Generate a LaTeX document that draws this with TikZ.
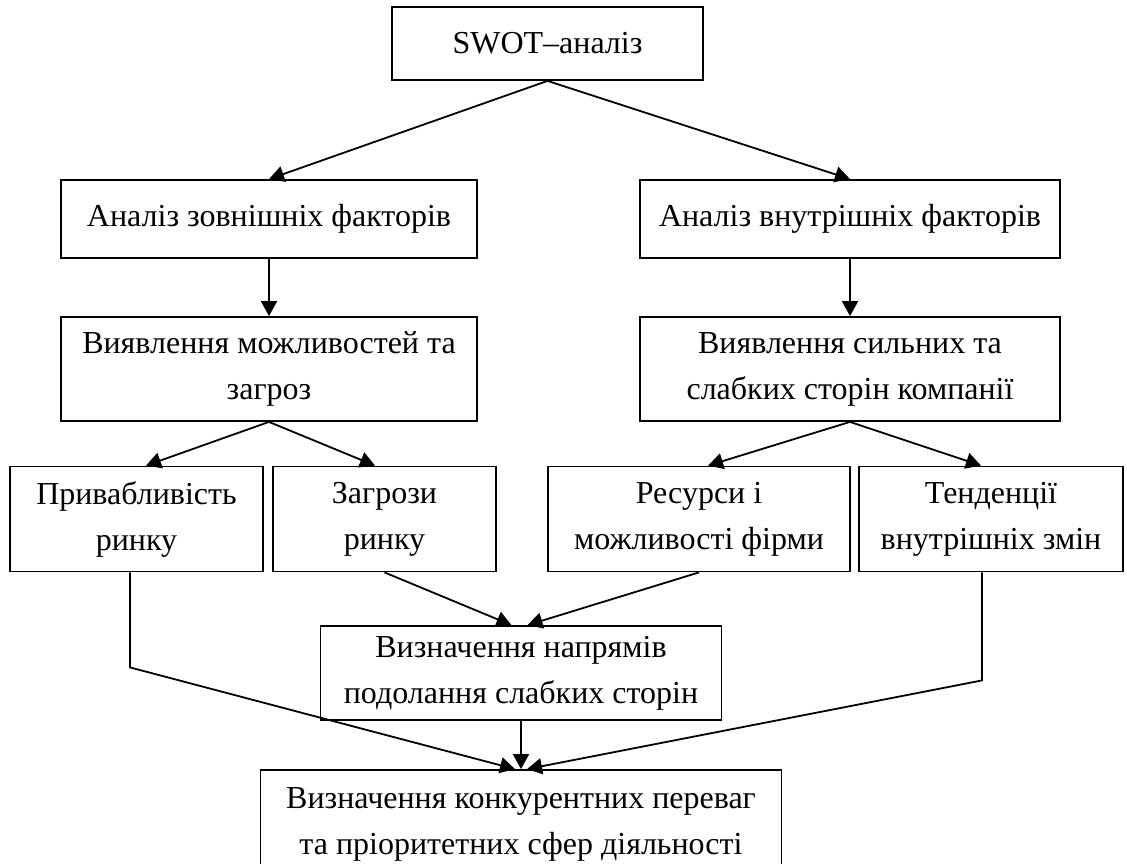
\documentclass[tikz,border=0pt]{standalone}
\usepackage{fontspec}
\setmainfont{Liberation Serif}
\usetikzlibrary{arrows.meta}
\tikzset{
  blok/.style={draw, line width=0.9pt, align=center, inner sep=0pt,
    font=\fontsize{16}{23}\selectfont},
  strilka/.style={-{Triangle[length=7.5pt,width=8pt]}, line width=0.9pt},
  liniia/.style={line width=0.9pt}
}
\begin{document}
\begin{tikzpicture}[x=0.5pt,y=-0.5pt]
	\useasboundingbox (0,0) rectangle (1127,863);

	% top level
	\node[blok, minimum width=155.5pt, minimum height=36.5pt] (swot) at (547.5,43.5) {SWOT–аналіз};

	% external and internal analysis
	\node[blok, minimum width=208pt, minimum height=39pt] (zovn) at (269,219) {Аналіз зовнішніх факторів};
	\node[blok, minimum width=210pt, minimum height=39pt] (vnutr) at (850,219) {Аналіз внутрішніх факторів};
	\node[blok, minimum width=208pt, minimum height=52pt] (mozhl) at (269,369) {Виявлення можливостей та\\загроз};
	\node[blok, minimum width=210pt, minimum height=52pt] (syln) at (850,369) {Виявлення сильних та\\слабких сторін компанії};

	% third row
	\node[blok, minimum width=126.5pt, minimum height=52.5pt] (pryb) at (136.5,519) {Привабливість\\ринку};
	\node[blok, minimum width=111.5pt, minimum height=52.5pt] (zahr) at (384.5,519) {Загрози\\ринку};
	\node[blok, minimum width=151pt, minimum height=52.5pt] (resu) at (699,519) {Ресурси і\\можливості фірми};
	\node[blok, minimum width=132pt, minimum height=52.5pt] (tend) at (991,519) {Тенденції\\внутрішніх змін};

	% bottom
	\node[blok, minimum width=200.5pt, minimum height=47pt] (napr) at (521,673) {Визначення напрямів\\подолання слабких сторін};
	\node[blok, minimum width=260.5pt, minimum height=54pt] (konk) at (521,824) {Визначення конкурентних переваг\\та пріоритетних сфер діяльності};

	% arrows
	\draw[strilka] (swot.south) -- (zovn.north);
	\draw[strilka] (swot.south) -- (vnutr.north);
	\draw[strilka] (zovn.south) -- (mozhl.north);
	\draw[strilka] (vnutr.south) -- (syln.north);
	\draw[strilka] (mozhl.south) -- ([xshift=4.75pt]pryb.north);
	\draw[strilka] (mozhl.south) -- ([xshift=-4.75pt]zahr.north);
	\draw[strilka] (syln.south) -- ([xshift=4.5pt]resu.north);
	\draw[strilka] (syln.south) -- ([xshift=-5pt]tend.north);
	\draw[strilka] (zahr.south) -- ([xshift=-4.75pt]napr.north);
	\draw[strilka] (resu.south) -- ([xshift=3.25pt]napr.north);
	\draw[strilka] (napr.south) -- (konk.north);
	\draw[strilka] ([xshift=-3.25pt]pryb.south) -- ++(0,95) -- ([xshift=-3pt]konk.north);
	\draw[strilka] ([xshift=-4.5pt]tend.south) -- ++(0,108) -- ([xshift=3pt]konk.north);
\end{tikzpicture}
\end{document}
